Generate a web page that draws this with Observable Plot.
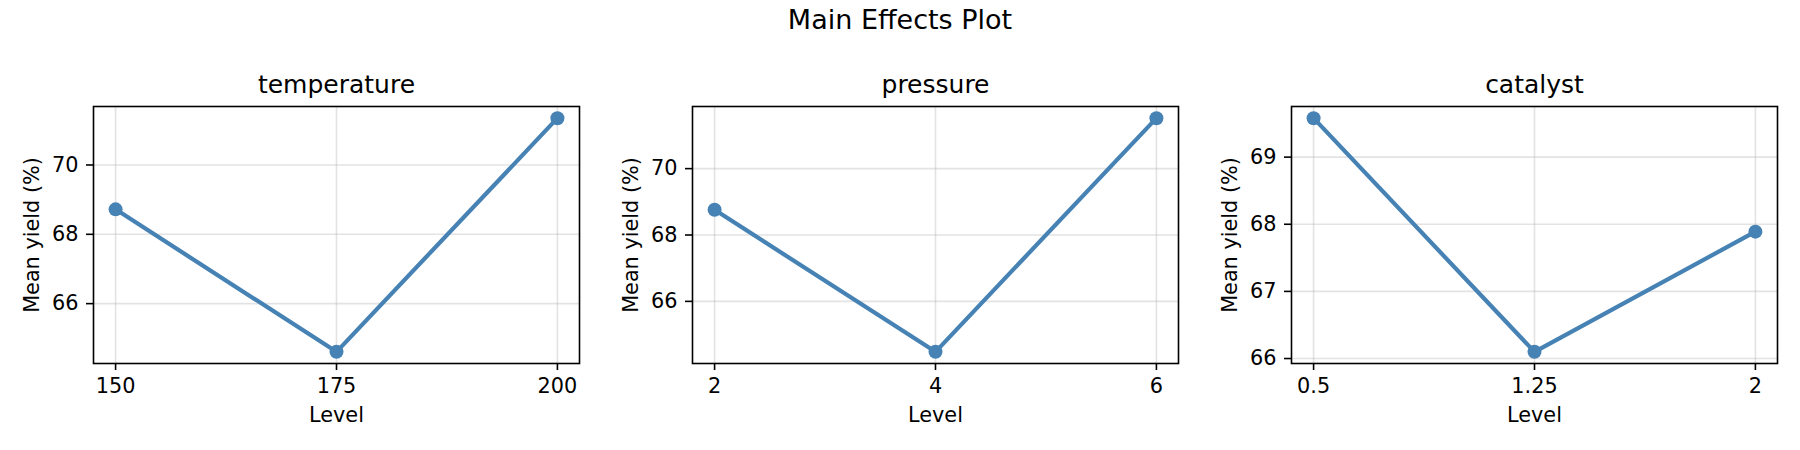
<!DOCTYPE html>
<html><head><meta charset="utf-8">
<script src="https://cdn.jsdelivr.net/npm/d3@7"></script>
<script src="https://cdn.jsdelivr.net/npm/@observablehq/plot@0.6"></script>
<style>
body{margin:0;background:#fff;}
#wrap{position:relative;width:1800px;height:450px;font-family:"DejaVu Sans";background:#fff;}
#suptitle{position:absolute;left:0;top:0;width:1800px;height:40px;line-height:40px;font-size:27px;text-align:center;color:#000;}
.panel{position:absolute;top:40px;}
</style></head><body>
<div id="wrap"><div id="suptitle"></div></div>
<script>
const suptitle = "Main Effects Plot";
const yLabel = "Mean yield (%)";
const xLabel = "Level";

const tempLevels = [150, 175, 200];
const tempLabels = ["150", "175", "200"];
const tempMeans = [68.72, 64.61, 71.35];
const tempYTicks = [66, 68, 70];

const pressureLevels = [2, 4, 6];
const pressureLabels = ["2", "4", "6"];
const pressureMeans = [68.76, 64.48, 71.52];
const pressureYTicks = [66, 68, 70];

const catalystLevels = [0.5, 1.25, 2];
const catalystLabels = ["0.5", "1.25", "2"];
const catalystMeans = [69.58, 66.10, 67.89];
const catalystYTicks = [66, 67, 68, 69];

const panels = [
  {name: "temperature", levels: tempLevels, labels: tempLabels, means: tempMeans, yTicks: tempYTicks},
  {name: "pressure", levels: pressureLevels, labels: pressureLabels, means: pressureMeans, yTicks: pressureYTicks},
  {name: "catalyst", levels: catalystLevels, labels: catalystLabels, means: catalystMeans, yTicks: catalystYTicks}
];

document.getElementById("suptitle").textContent = suptitle;
const wrap = document.getElementById("wrap");
const color = "#4682b4";

function padded(vals) {
  const lo = d3.min(vals), hi = d3.max(vals), p = (hi - lo) * 0.05;
  return [lo - p, hi + p];
}

panels.forEach((p, i) => {
  const data = p.levels.map((l, j) => ({level: l, mean: p.means[j]}));
  const chart = Plot.plot({
    width: 599,
    height: 410,
    marginLeft: 93,
    marginRight: 20,
    marginTop: 66,
    marginBottom: 87,
    style: {fontFamily: "DejaVu Sans", fontSize: "20.8px", color: "black", background: "white", overflow: "visible"},
    x: {type: "linear", domain: padded(p.levels)},
    y: {type: "linear", domain: padded(p.means)},
    marks: [
      Plot.gridX(p.levels, {stroke: "#b0b0b0", strokeOpacity: 0.35, strokeWidth: 1.6}),
      Plot.gridY(p.yTicks, {stroke: "#b0b0b0", strokeOpacity: 0.35, strokeWidth: 1.6}),
      Plot.line(data, {x: "level", y: "mean", stroke: color, strokeWidth: 4.2}),
      Plot.dot(data, {x: "level", y: "mean", r: 7, fill: color, stroke: null}),
      Plot.frame({stroke: "black", strokeWidth: 1.6}),
      Plot.axisX({ticks: p.levels, tickFormat: d => p.labels[p.levels.indexOf(d)], tickSize: 7, tickPadding: 8, fontSize: 20.8, strokeWidth: 1.6, label: null, anchor: "bottom"}),
      Plot.axisY({ticks: p.yTicks, tickFormat: d => String(d), tickSize: 7, tickPadding: 8, fontSize: 20.8, strokeWidth: 1.6, label: null, anchor: "left"}),
      Plot.text([p.name], {frameAnchor: "top", text: d => d, dy: -22, fontSize: 25, lineAnchor: "middle", textAnchor: "middle"}),
      Plot.text([yLabel], {frameAnchor: "left", text: d => d, dx: -61, rotate: -90, fontSize: 20.8, lineAnchor: "middle", textAnchor: "middle"}),
      Plot.text([xLabel], {frameAnchor: "bottom", text: d => d, dy: 52, fontSize: 20.8, lineAnchor: "middle", textAnchor: "middle"})
    ]
  });
  const div = document.createElement("div");
  div.className = "panel";
  div.style.left = (i * 599) + "px";
  div.appendChild(chart);
  wrap.appendChild(div);
});
</script>
</body></html>
